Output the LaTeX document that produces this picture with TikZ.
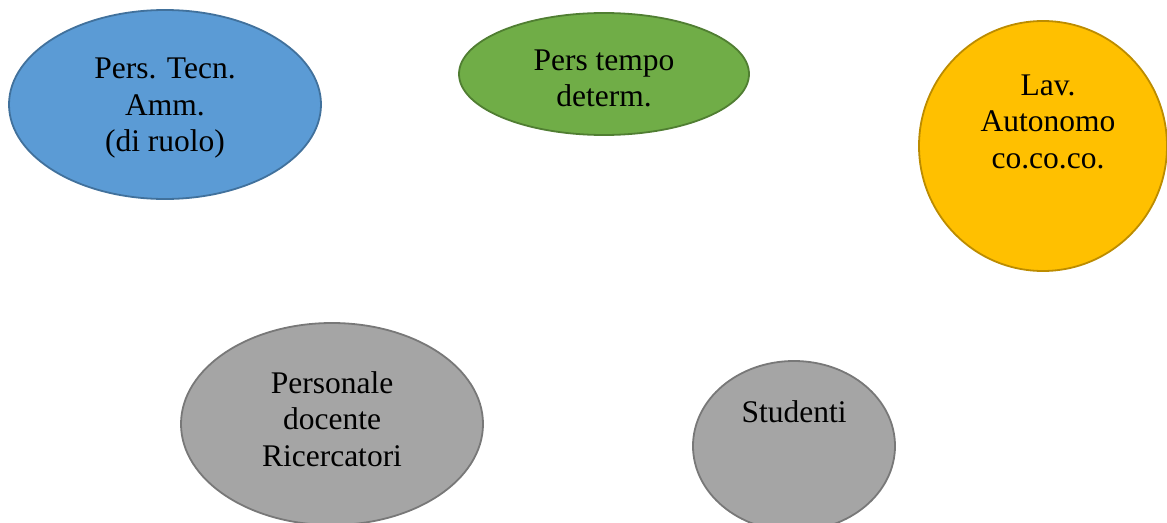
\documentclass[tikz,border=0pt]{standalone}
\usepackage{fontspec}
\setmainfont{Liberation Serif}
\usetikzlibrary{shapes.geometric}

\definecolor{ruoloblu}{HTML}{5B9BD5}
\definecolor{ruolobluedge}{HTML}{41719C}
\definecolor{tempoverde}{HTML}{70AD47}
\definecolor{tempoverdeedge}{HTML}{507E32}
\definecolor{autogiallo}{HTML}{FFC000}
\definecolor{autogialloedge}{HTML}{BC8C00}
\definecolor{docgrigio}{HTML}{A5A5A5}
\definecolor{docgrigioedge}{HTML}{787878}

\begin{document}
\begin{tikzpicture}[x=1pt,y=-1pt,
  blob/.style={ellipse, line width=1.8pt, inner sep=0pt},
  testo/.style={align=center, font=\fontsize{31.5}{36.5}\selectfont}]
\useasboundingbox (0,0) rectangle (1167,522);
\clip (0,0) rectangle (1167,522);

\node [blob, fill=ruoloblu, draw=ruolobluedge, minimum width=312pt, minimum height=189pt] (tecn) at (165,104.5) {};
\node [blob, fill=tempoverde, draw=tempoverdeedge, minimum width=290pt, minimum height=122pt] (tempo) at (604,74) {};
\node [blob, fill=autogiallo, draw=autogialloedge, minimum width=248pt, minimum height=250pt] (auto) at (1043,146) {};
\node [blob, fill=docgrigio, draw=docgrigioedge, minimum width=302pt, minimum height=202pt] (docenti) at (332,424) {};
\node [blob, fill=docgrigio, draw=docgrigioedge, minimum width=202pt, minimum height=170pt] (studenti) at (794,446) {};

\node [testo] (tecntxt) at (165,108.5) {Pers. Tecn.\\Amm.\\(di ruolo)};
\node [testo] (tempotxt) at (604,78.5) {Pers tempo\\determ.};
\node [testo] (autotxt) at (1048,121.5) {Lav.\\Autonomo\\co.co.co.};
\node [testo] (docentitxt) at (332,419) {Personale\\docente\\Ricercatori};
\node [testo] (studentitxt) at (794,412) {Studenti};
\end{tikzpicture}
\end{document}
